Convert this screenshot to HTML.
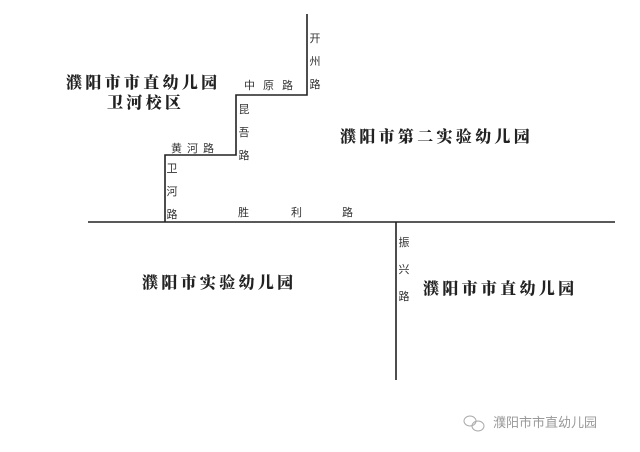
<!DOCTYPE html>
<html><head><meta charset="utf-8"><style>
body{margin:0;width:640px;height:452px;background:#fff;position:relative;overflow:hidden;font-family:"Liberation Sans","Noto Sans CJK SC",sans-serif;color:#222}
.t{position:absolute;white-space:nowrap;font-family:"Noto Serif CJK SC","Liberation Serif",serif;font-weight:900;font-size:16px;letter-spacing:3.3px;line-height:18px}
.s{position:absolute;white-space:nowrap;font-size:11px;line-height:12px;color:#333}
.v{position:absolute;width:12px;font-size:11px;line-height:23px;color:#333;text-align:center}
</style></head><body>
<svg width="640" height="452" style="position:absolute;left:0;top:0">
<g stroke="#222" stroke-width="1.6" fill="none">
<polyline points="307,14 307,95 236,95 236,155 165,155 165,222"/>
<line x1="88" y1="222" x2="615" y2="222"/>
<line x1="396" y1="222" x2="396" y2="380"/>
</g>
<g fill="none" stroke="#aaa" stroke-width="1"><ellipse cx="470" cy="421" rx="6" ry="5"/><ellipse cx="478" cy="426" rx="6" ry="5"/></g>
</svg>
<div class="t" style="left:66px;top:73px">濮阳市市直幼儿园</div>
<div class="t" style="left:107px;top:93px">卫河校区</div>
<div class="t" style="left:340px;top:127px">濮阳市第二实验幼儿园</div>
<div class="t" style="left:142px;top:273px">濮阳市实验幼儿园</div>
<div class="t" style="left:423px;top:279px">濮阳市市直幼儿园</div>
<div class="v" style="left:309px;top:28px">开<br>州<br>路</div>
<div class="s" style="left:244px;top:80px;letter-spacing:8px">中原路</div>
<div class="v" style="left:238px;top:99px">昆<br>吾<br>路</div>
<div class="s" style="left:171px;top:143px;letter-spacing:5px">黄河路</div>
<div class="v" style="left:166px;top:158px">卫<br>河<br>路</div>
<div class="s" style="left:238px;top:207px">胜</div>
<div class="s" style="left:291px;top:207px">利</div>
<div class="s" style="left:342px;top:207px">路</div>
<div class="v" style="left:398px;top:230px;line-height:27px">振<br>兴<br>路</div>
<div class="s" style="left:493px;top:416px;font-size:13px;line-height:14px;color:#999">濮阳市市直幼儿园</div>
</body></html>
